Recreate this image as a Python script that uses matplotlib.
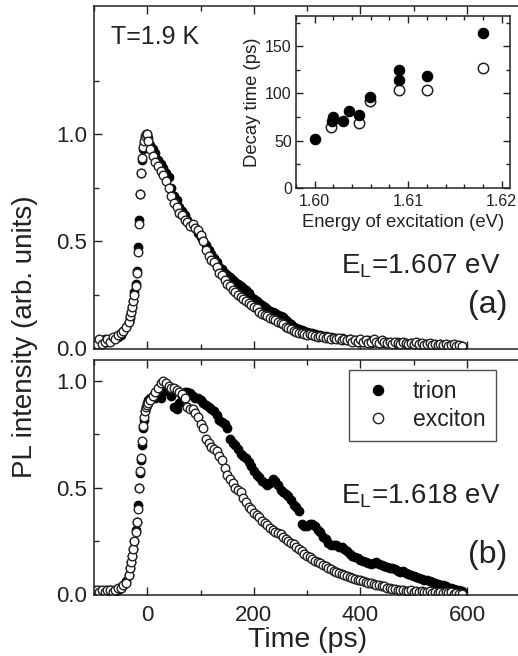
import numpy as np
import matplotlib
matplotlib.use('Agg')
import matplotlib.pyplot as plt
from matplotlib.ticker import MultipleLocator, FixedLocator

plt.rcParams['font.family'] = ['Liberation Sans', 'DejaVu Sans']
plt.rcParams['mathtext.default'] = 'regular'

ink = '#222222'

# sampling times (ps): sparse baseline, dense rising edge, regular decay
t_base = np.arange(-100, -34, 5)
t_edge = np.arange(-32, 3, 2)
t_decay = np.arange(5, 591, 5)
time = np.concatenate([t_base, t_edge, t_decay])

# panel (a), E_L = 1.607 eV
trion_a = [
    0.02, 0.03, 0.03, 0.02, 0.04, 0.03, 0.04, 0.04, 0.05, 0.05, 0.06, 0.08, 0.10, 0.12,
    0.14, 0.17, 0.19, 0.22, 0.26, 0.30, 0.36, 0.47, 0.60, 0.72, 0.82, 0.88, 0.93, 0.96, 0.98, 0.99, 1.00, 0.98,
    0.95, 0.93, 0.91, 0.88, 0.86, 0.84, 0.82, 0.80, 0.75, 0.71,
    0.69, 0.66, 0.64, 0.62, 0.60, 0.58, 0.57, 0.56, 0.54, 0.52,
    0.50, 0.48, 0.46, 0.44, 0.42, 0.40, 0.38, 0.37, 0.35, 0.34,
    0.33, 0.32, 0.31, 0.30, 0.29, 0.28, 0.27, 0.255, 0.24, 0.23,
    0.22, 0.21, 0.20, 0.19, 0.18, 0.175, 0.17, 0.165, 0.155, 0.15,
    0.145, 0.13, 0.12, 0.11, 0.10, 0.095, 0.09, 0.085, 0.08, 0.075,
    0.07, 0.07, 0.065, 0.06, 0.06, 0.055, 0.055, 0.05, 0.05, 0.045,
    0.045, 0.04, 0.045, 0.04, 0.035, 0.04, 0.035, 0.035, 0.03, 0.035,
    0.03, 0.03, 0.035, 0.025, 0.03, 0.03, 0.025, 0.03, 0.025, 0.03,
    0.025, 0.025, 0.02, 0.03, 0.02, 0.025, 0.02, 0.02, 0.025, 0.02,
    0.02, 0.025, 0.015, 0.02, 0.02, 0.015, 0.02, 0.015, 0.015, 0.02,
    0.015, 0.01, 0.015, 0.015, 0.01, 0.015, 0.01, 0.01,
]
exciton_a = [
    0.03, 0.02, 0.04, 0.02, 0.03, 0.04, 0.03, 0.05, 0.04, 0.06, 0.07, 0.08, 0.10, 0.12,
    0.15, 0.17, 0.19, 0.22, 0.25, 0.29, 0.35, 0.45, 0.58, 0.72, 0.82, 0.89, 0.94, 0.97, 0.99, 1.00, 1.00, 0.97,
    0.93, 0.90, 0.87, 0.85, 0.83, 0.81, 0.78, 0.75, 0.71, 0.68,
    0.66, 0.63, 0.62, 0.60, 0.59, 0.57, 0.58, 0.56, 0.55, 0.53,
    0.50, 0.46, 0.43, 0.41, 0.40, 0.38, 0.35, 0.34, 0.32, 0.30,
    0.29, 0.27, 0.26, 0.25, 0.24, 0.23, 0.22, 0.21, 0.20, 0.19,
    0.185, 0.17, 0.16, 0.155, 0.15, 0.14, 0.135, 0.13, 0.12, 0.115,
    0.11, 0.10, 0.095, 0.09, 0.08, 0.075, 0.07, 0.07, 0.065, 0.06,
    0.065, 0.06, 0.055, 0.05, 0.055, 0.05, 0.045, 0.05, 0.04, 0.045,
    0.04, 0.045, 0.035, 0.04, 0.035, 0.04, 0.03, 0.035, 0.03, 0.04,
    0.03, 0.035, 0.025, 0.03, 0.04, 0.03, 0.025, 0.035, 0.03, 0.025,
    0.03, 0.02, 0.03, 0.025, 0.02, 0.03, 0.025, 0.02, 0.025, 0.02,
    0.03, 0.02, 0.025, 0.015, 0.02, 0.025, 0.015, 0.02, 0.015, 0.02,
    0.015, 0.02, 0.01, 0.015, 0.02, 0.01, 0.015, 0.01,
]

# panel (b), E_L = 1.618 eV
trion_b = [
    0.02, 0.01, 0.02, 0.01, 0.02, 0.01, 0.02, 0.02, 0.01, 0.02, 0.03, 0.04, 0.06, 0.09,
    0.12, 0.15, 0.18, 0.21, 0.25, 0.30, 0.34, 0.42, 0.50, 0.57, 0.63, 0.70, 0.78, 0.82, 0.86, 0.88, 0.90, 0.91,
    0.92, 0.93, 0.92, 0.93, 0.92, 0.95, 0.97, 0.96, 0.93, 0.88,
    0.87, 0.90, 0.93, 0.95, 0.95, 0.945, 0.93, 0.92, 0.92, 0.91,
    0.90, 0.89, 0.88, 0.87, 0.86, 0.84, 0.82, 0.81, 0.80, 0.78,
    0.73, 0.71, 0.70, 0.68, 0.66, 0.65, 0.64, 0.62, 0.60, 0.58,
    0.56, 0.55, 0.53, 0.52, 0.51, 0.52, 0.54, 0.53, 0.51, 0.49,
    0.48, 0.47, 0.46, 0.44, 0.42, 0.41, 0.39, 0.33, 0.32, 0.32,
    0.33, 0.33, 0.32, 0.30, 0.29, 0.27, 0.26, 0.24, 0.23, 0.23,
    0.23, 0.22, 0.22, 0.21, 0.20, 0.19, 0.18, 0.175, 0.17, 0.16,
    0.155, 0.15, 0.145, 0.14, 0.145, 0.15, 0.14, 0.135, 0.13, 0.125,
    0.12, 0.12, 0.115, 0.11, 0.105, 0.11, 0.10, 0.095, 0.09, 0.085,
    0.08, 0.075, 0.07, 0.065, 0.065, 0.06, 0.055, 0.05, 0.045, 0.04,
    0.04, 0.035, 0.03, 0.03, 0.025, 0.02, 0.02, 0.015,
]
exciton_b = [
    0.01, 0.02, 0.01, 0.02, 0.01, 0.02, 0.02, 0.01, 0.02, 0.03, 0.03, 0.04, 0.05, 0.09,
    0.12, 0.15, 0.18, 0.21, 0.25, 0.29, 0.34, 0.40, 0.50, 0.58, 0.64, 0.72, 0.79, 0.83, 0.86, 0.88, 0.89, 0.90,
    0.91, 0.93, 0.95, 0.97, 0.99, 1.00, 0.99, 0.98, 0.97, 0.97,
    0.96, 0.95, 0.94, 0.92, 0.88, 0.87, 0.87, 0.85, 0.83, 0.80,
    0.78, 0.73, 0.71, 0.69, 0.68, 0.67, 0.65, 0.63, 0.59, 0.56,
    0.54, 0.52, 0.50, 0.49, 0.48, 0.45, 0.43, 0.41, 0.40, 0.38,
    0.37, 0.36, 0.345, 0.335, 0.325, 0.31, 0.30, 0.29, 0.285, 0.28,
    0.27, 0.26, 0.25, 0.24, 0.235, 0.22, 0.21, 0.20, 0.19, 0.18,
    0.175, 0.165, 0.155, 0.15, 0.145, 0.135, 0.13, 0.12, 0.115, 0.11,
    0.105, 0.10, 0.095, 0.09, 0.085, 0.08, 0.075, 0.07, 0.065, 0.065,
    0.06, 0.055, 0.05, 0.05, 0.045, 0.04, 0.04, 0.035, 0.035, 0.03,
    0.03, 0.025, 0.025, 0.02, 0.02, 0.02, 0.015, 0.015, 0.02, 0.01,
    0.015, 0.01, 0.015, 0.01, 0.01, 0.015, 0.005, 0.01, 0.005, 0.01,
    0.005, 0.01, 0.005, 0.01, 0.00, 0.005, 0.00, 0.00,
]

# inset: decay time vs excitation energy
energy_trion = [1.6000, 1.6018, 1.6020, 1.6030, 1.6037, 1.6047, 1.6059, 1.6090, 1.6090, 1.6120, 1.6180]
decay_trion = [52, 71, 75, 71, 82, 77, 96, 125, 114, 119, 164]
energy_exciton = [1.6017, 1.6047, 1.6059, 1.6090, 1.6120, 1.6180]
decay_exciton = [65, 69, 92, 104, 104, 127]


def style(ax, size, right=True):
    for s in ax.spines.values():
        s.set_color(ink)
        s.set_linewidth(1.1)
    ax.tick_params(which='both', direction='in', top=True, right=right,
                   color=ink, labelcolor=ink, labelsize=size, width=1.0)
    ax.tick_params(which='major', length=6)
    ax.tick_params(which='minor', length=3.5)


fig = plt.figure(figsize=(5.18, 6.56), dpi=100)
ax_a = fig.add_axes([94 / 518, 1 - 349 / 656, 426.3 / 518, 343 / 656])
ax_b = fig.add_axes([94 / 518, 1 - 595 / 656, 426.3 / 518, 235 / 656])

for ax, tr, ex in [(ax_a, trion_a, exciton_a), (ax_b, trion_b, exciton_b)]:
    ax.plot(time, tr, 'o', ms=6.2, mfc='black', mec='black', mew=0.8, label='trion')
    ax.plot(time, ex, 'o', ms=6.2, mfc='white', mec=ink, mew=1.0, label='exciton')
    ax.set_xlim(-100, 700)
    ax.xaxis.set_major_locator(MultipleLocator(200))
    ax.xaxis.set_minor_locator(MultipleLocator(100))
    ax.yaxis.set_major_locator(FixedLocator([0.0, 0.5, 1.0]))
    ax.yaxis.set_minor_locator(FixedLocator([0.25, 0.75, 1.25]))
    style(ax, 16, right=False)
    ax.tick_params(axis='y', pad=5)
    ax.tick_params(axis='x', pad=7)

ax_a.set_ylim(-0.005, 1.6)
ax_b.set_ylim(-0.005, 1.1)
ax_a.tick_params(labelbottom=False)
ax_a.yaxis.set_major_formatter(matplotlib.ticker.FormatStrFormatter('%.1f'))
ax_b.yaxis.set_major_formatter(matplotlib.ticker.FormatStrFormatter('%.1f'))

ax_a.text(-69, 1.42, 'T=1.9 K', fontsize=18, color=ink)
ax_a.text(662, 0.346, '$E_L$=1.607 eV', fontsize=20, color=ink, ha='right', va='baseline')
ax_a.text(675, 0.164, '(a)', fontsize=23, color=ink, ha='right', va='baseline')
ax_b.text(662, 0.427, '$E_L$=1.618 eV', fontsize=20, color=ink, ha='right', va='baseline')
ax_b.text(675, 0.145, '(b)', fontsize=23, color=ink, ha='right', va='baseline')

leg = ax_b.legend(loc='upper left', bbox_to_anchor=(0.599, 0.957), fontsize=16.5,
                  frameon=True, fancybox=False, edgecolor=ink, handlelength=1.6,
                  handletextpad=0.72, borderpad=0.45, labelspacing=0.2, borderaxespad=0,
                  markerscale=1.2)
leg.get_frame().set_linewidth(1.0)
for txt in leg.get_texts():
    txt.set_color(ink)

fig.text(0.048, 0.487, 'PL intensity (arb. units)', rotation=90, fontsize=20,
         ha='center', va='center', color=ink)
fig.text(0.593, 0.025, 'Time (ps)', fontsize=20.5, ha='center', va='center', color=ink)

# inset
ins = fig.add_axes([296 / 518, 1 - 188 / 656, 214 / 518, 172 / 656])
ins.plot(energy_exciton, decay_exciton, 'o', ms=7.5, mfc='white', mec=ink, mew=1.1)
ins.plot(energy_trion, decay_trion, 'o', ms=7.5, mfc='black', mec='black', mew=0.8)
ins.set_xlim(1.598, 1.6209)
ins.set_ylim(0, 182)
ins.xaxis.set_major_locator(FixedLocator([1.60, 1.61, 1.62]))
ins.xaxis.set_minor_locator(MultipleLocator(0.002))
ins.xaxis.set_major_formatter(matplotlib.ticker.FormatStrFormatter('%.2f'))
ins.yaxis.set_major_locator(MultipleLocator(50))
ins.yaxis.set_minor_locator(MultipleLocator(25))
style(ins, 11.5)
ins.tick_params(which='major', length=5)
ins.tick_params(which='minor', length=3)
ins.tick_params(axis='x', pad=4)
ins.tick_params(axis='y', pad=3)
ins.set_xlabel('Energy of excitation (eV)', fontsize=13.3, color=ink, labelpad=4)
ins.set_ylabel('Decay time (ps)', fontsize=13.3, color=ink, labelpad=3)

fig.savefig('out.png', dpi=100)
